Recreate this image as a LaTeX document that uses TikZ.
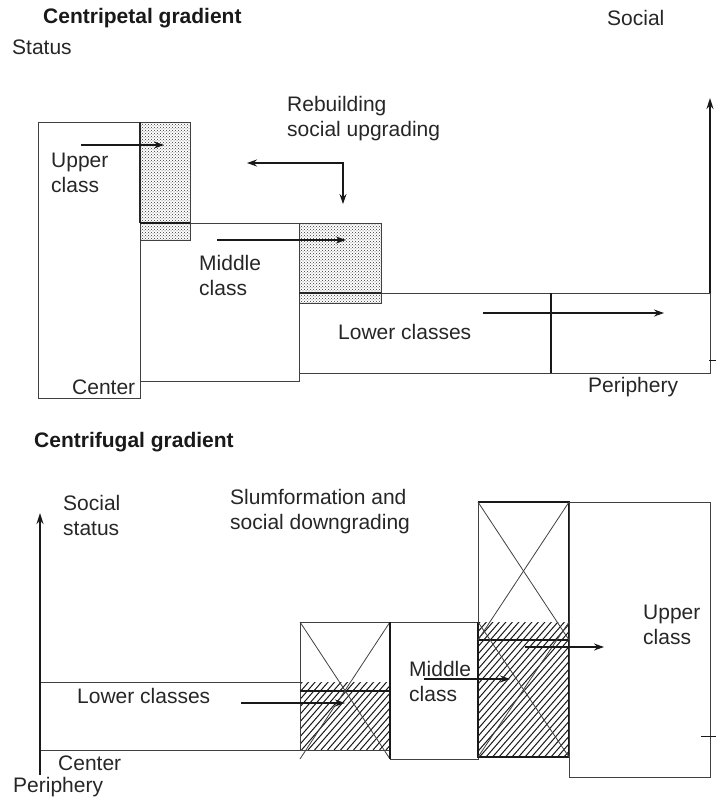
\documentclass[tikz,border=0pt]{standalone}
\usepackage{fontspec}
\setmainfont{Liberation Sans}
\usetikzlibrary{arrows.meta,patterns}
\newcommand\myhatch[4]{%
  \begin{scope}
    \clip (#1,#2) rectangle (#3,#4);
    \foreach \k in {-200,-193.5,...,120} \draw[hatchline] (#1+\k,#4) -- ++(180,-207);
  \end{scope}}
\begin{document}
\begin{tikzpicture}[x=1pt,y=-1pt,
  txt/.style={font=\fontsize{21}{25}\selectfont, inner sep=0pt, align=left, text=black!85},
  ttl/.style={font=\fontsize{21}{25}\selectfont\bfseries, inner sep=0pt, text=black!90},
  thinline/.style={line width=0.8pt, draw=black!75},
  midline/.style={line width=1.1pt, draw=black!85},
  thickline/.style={line width=1.7pt, draw=black!90},
  hatchline/.style={line width=1pt, draw=black!90},
  dotfill/.style={pattern=crosshatch dots, pattern color=black!80},
  arr/.style={-{Stealth[length=10pt,width=7pt]}, line width=1.1pt, draw=black!90},
  axis/.style={-{Stealth[length=11pt,width=7pt]}, line width=1.7pt, draw=black!90}]
\useasboundingbox (0,0) rectangle (715,798);

% ---------------- top chart: centripetal gradient
\node[ttl, anchor=west] (t1) at (43,18) {Centripetal gradient};
\node[txt, anchor=west] (st) at (12,47) {Status};
\node[txt, anchor=west] (so) at (607,18) {Social};
\node[txt, anchor=west] (reb) at (287,119) {Rebuilding\\social upgrading};

\fill[dotfill] (140,122) rectangle (190,240);
\draw[thinline] (140,122) rectangle (190,240);
\fill[dotfill] (299,223) rectangle (381,303);
\draw[thinline] (299,223) rectangle (381,303);

\draw[thinline] (38,122) rectangle (140,398);
\draw[midline] (140,122) -- (140,223);
\draw[thinline] (140,223) rectangle (299,381);
\draw[thinline] (299,293) rectangle (710,373);
\draw[thickline] (140,223) -- (190,223);
\draw[midline] (299,293) -- (381,293);
\draw[thickline] (551,293) -- (551,373);

\coordinate (ax1a) at (710,293);
\coordinate (ax1b) at (710,98);
\draw[axis] (ax1a) -- (ax1b);
\coordinate (tk1a) at (709,360);
\coordinate (tk1b) at (726,360);
\draw[arr, line width=0.9pt] (tk1a) -- (tk1b);

\coordinate (u1a) at (81,145);  \coordinate (u1b) at (164,145);
\draw[arr] (u1a) -- (u1b);
\coordinate (m1a) at (217,240); \coordinate (m1b) at (346,240);
\draw[arr] (m1a) -- (m1b);
\coordinate (l1a) at (483,313); \coordinate (l1b) at (664,313);
\draw[arr] (l1a) -- (l1b);
\coordinate (r1a) at (247,163); \coordinate (r1c) at (343,163); \coordinate (r1b) at (343,204);
\draw[{Stealth[length=10pt,width=7pt]}-{Stealth[length=10pt,width=7pt]}, line width=1.1pt, draw=black!90] (r1a) -- (r1c) -- (r1b);

\node[txt, anchor=west] (uc) at (51,173) {Upper\\class};
\node[txt, anchor=west] (mc) at (199,275) {Middle\\class};
\node[txt, anchor=west] (lc) at (338,332) {Lower classes};
\node[txt, anchor=west] (ce) at (72,387) {Center};
\node[txt, anchor=west] (pe) at (588,387) {Periphery};

% ---------------- bottom chart: centrifugal gradient
\node[ttl, anchor=west] (t2) at (34,442) {Centrifugal gradient};
\node[txt, anchor=west] (ss) at (63,515) {Social\\status};
\node[txt, anchor=west] (slum) at (230,512) {Slumformation and\\social downgrading};

% lower band
\draw[thinline] (40,682) -- (300,682);
\draw[thinline] (40,750) -- (300,750);
% small crossed box
\myhatch{300}{682}{390}{750}
\draw[thinline] (300,622) rectangle (390,750);
\draw[thickline] (300,691) -- (390,691);
\draw[thinline] (300,622) -- (390,759);
\draw[thinline] (390,622) -- (300,759);
% middle box
\draw[thinline] (390,622) rectangle (478,759);
\draw[thickline] (390,622) -- (390,759);
% big crossed box
\myhatch{478}{622}{569}{757}
\draw[thinline] (478,502) rectangle (569,757);
\draw[thickline] (478,622) -- (478,757) -- (569,757);
\draw[thickline] (478,502) -- (569,502) -- (569,757);
\draw[thickline] (478,640) -- (569,640);
\draw[thinline] (478,502) -- (569,640);
\draw[thinline] (569,502) -- (478,640);
\draw[thinline] (478,622) -- (569,757);
\draw[thinline] (569,622) -- (478,757);
% upper class box
\draw[thinline] (569,502) rectangle (710,777);

\coordinate (ax2a) at (40,775);
\coordinate (ax2b) at (40,513);
\draw[axis] (ax2a) -- (ax2b);
\coordinate (tk2a) at (701,736);
\coordinate (tk2b) at (726,736);
\draw[arr, line width=0.9pt] (tk2a) -- (tk2b);

\coordinate (l2a) at (241,703); \coordinate (l2b) at (345,703);
\draw[arr] (l2a) -- (l2b);
\coordinate (m2a) at (424,679); \coordinate (m2b) at (510,679);
\draw[arr] (m2a) -- (m2b);
\coordinate (u2a) at (525,647); \coordinate (u2b) at (604,647);
\draw[arr] (u2a) -- (u2b);

\node[txt, anchor=west] (lc2) at (77,696) {Lower classes};
\node[txt, anchor=west] (mc2) at (409,681) {Middle\\class};
\node[txt, anchor=west] (uc2) at (643,625) {Upper\\class};
\node[txt, anchor=west] (ce2) at (58,763) {Center};
\node[txt, anchor=west] (pe2) at (13,787) {Periphery};
\end{tikzpicture}
\end{document}
